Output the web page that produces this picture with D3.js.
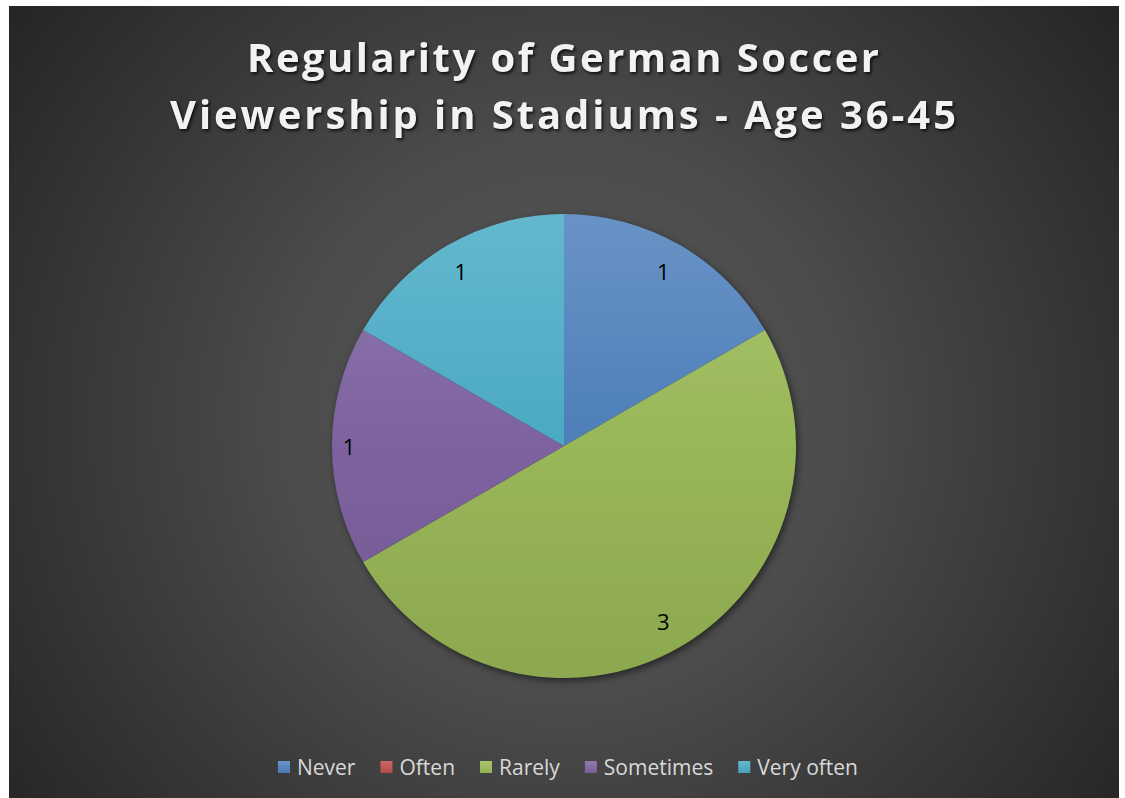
<!DOCTYPE html>
<html>
<head>
<meta charset="utf-8">
<script src="https://cdn.jsdelivr.net/npm/d3@7"></script>
<style>
  html, body { margin: 0; padding: 0; background: #ffffff; }
  svg { display: block; }
</style>
</head>
<body>
<svg id="chart" width="1125" height="798"></svg>
<script>
// Survey answers for the 36-45 age group
const categories = ["Never", "Often", "Rarely", "Sometimes", "Very often"];
const counts = [1, 0, 3, 1, 1];
const sliceColors = ["#4f81bd", "#c0504d", "#9bbb59", "#8064a2", "#4bacc6"];
const titleLines = ["Regularity of German Soccer", "Viewership in Stadiums - Age 36-45"];

const svg = d3.select("#chart");
const frame = { x: 9, y: 6, w: 1110, h: 792 };

const defs = svg.append("defs");

// Dark radial backdrop
const bg = defs.append("radialGradient")
  .attr("id", "bg")
  .attr("gradientUnits", "userSpaceOnUse")
  .attr("cx", 564).attr("cy", 420).attr("r", 690);
[[0, "#555555"], [0.4, "#4c4c4c"], [0.5, "#454545"], [1, "#252525"]]
  .forEach(([o, c]) => bg.append("stop").attr("offset", o).attr("stop-color", c));

svg.append("rect")
  .attr("x", frame.x).attr("y", frame.y)
  .attr("width", frame.w).attr("height", frame.h)
  .attr("fill", "url(#bg)");

// Title with soft drop shadow
const tShadow = defs.append("filter").attr("id", "tshadow")
  .attr("color-interpolation-filters", "sRGB")
  .attr("x", "-10%").attr("y", "-30%").attr("width", "120%").attr("height", "160%");
tShadow.append("feDropShadow")
  .attr("dx", 1.5).attr("dy", 2).attr("stdDeviation", 1.6)
  .attr("flood-color", "#000").attr("flood-opacity", 0.75);

const titleX = 563;
const titleBase = [72, 129];
const titleWidth = [632, 786];
const title = svg.append("g").attr("filter", "url(#tshadow)");
titleLines.forEach((line, i) => {
  title.append("text")
    .attr("x", titleX).attr("y", titleBase[i])
    .attr("text-anchor", "middle")
    .attr("textLength", titleWidth[i])
    .attr("lengthAdjust", "spacing")
    .attr("font-family", "'Open Sans', sans-serif")
    .attr("font-weight", 700)
    .attr("font-size", 40)
    .attr("fill", "#f2f2f2")
    .text(line);
});

// Pie
const cx = 564, cy = 446, R = 232;

// blurred disc beneath the pie for its shadow
const blur = defs.append("filter").attr("id", "blur")
  .attr("x", "-20%").attr("y", "-20%").attr("width", "140%").attr("height", "140%");
blur.append("feGaussianBlur").attr("stdDeviation", 3.5);

// vertical shading for each series, spanning the whole pie (pie-local coords)
sliceColors.forEach((c, i) => {
  const g = defs.append("linearGradient")
    .attr("id", "slice" + i)
    .attr("gradientUnits", "userSpaceOnUse")
    .attr("x1", 0).attr("y1", -R).attr("x2", 0).attr("y2", R);
  g.append("stop").attr("offset", 0).attr("stop-color", d3.interpolateRgb(c, "#ffffff")(0.14));
  g.append("stop").attr("offset", 0.5).attr("stop-color", d3.interpolateRgb(c, "#000000")(0.02));
  g.append("stop").attr("offset", 1).attr("stop-color", d3.interpolateRgb(c, "#000000")(0.1));
});

// legend swatches use the same shading over their own box
sliceColors.forEach((c, i) => {
  const g = defs.append("linearGradient")
    .attr("id", "swatch" + i)
    .attr("x1", 0).attr("y1", 0).attr("x2", 0).attr("y2", 1);
  g.append("stop").attr("offset", 0).attr("stop-color", d3.interpolateRgb(c, "#ffffff")(0.14));
  g.append("stop").attr("offset", 1).attr("stop-color", d3.interpolateRgb(c, "#000000")(0.06));
});

const pie = d3.pie().sort(null).value(d => d.value);
const arcs = pie(categories.map((name, i) => ({ name, value: counts[i], idx: i })));
const arc = d3.arc().innerRadius(0).outerRadius(R);

const pieG = svg.append("g").attr("transform", `translate(${cx},${cy})`);
pieG.append("circle")
  .attr("cx", 2).attr("cy", 3).attr("r", R)
  .attr("fill", "#000").attr("opacity", 0.5)
  .attr("filter", "url(#blur)");
pieG.append("g")
  .selectAll("path")
  .data(arcs.filter(d => d.value > 0))
  .join("path")
  .attr("d", arc)
  .attr("fill", d => `url(#slice${d.data.idx})`);

// value labels sit just inside the rim
const hw = 5, hh = 15, margin = 14;
pieG.append("g")
  .selectAll("text")
  .data(arcs.filter(d => d.value > 0))
  .join("text")
  .each(function (d) {
    const a = (d.startAngle + d.endAngle) / 2;
    const s = Math.sin(a), c = Math.cos(a);
    const r = R - margin - (Math.abs(s) * hw + Math.abs(c) * hh);
    d3.select(this).attr("x", s * r - 2).attr("y", -c * r);
  })
  .attr("text-anchor", "middle")
  .attr("dominant-baseline", "central")
  .attr("font-family", "'Open Sans', sans-serif")
  .attr("font-size", 22)
  .attr("fill", "#000000")
  .text(d => d.data.value);

// Legend
const legend = svg.append("g");
const legendFont = 21, sw = 12, textGap = 7, itemGap = 25, legendY = 767;
const items = legend.selectAll("g")
  .data(categories.map((name, i) => ({ name, idx: i })))
  .join("g");
items.append("rect")
  .attr("width", sw).attr("height", sw)
  .attr("y", legendY - sw / 2)
  .attr("fill", d => `url(#swatch${d.idx})`);
items.append("text")
  .attr("y", legendY)
  .attr("dominant-baseline", "central")
  .attr("font-family", "'Open Sans', sans-serif")
  .attr("font-size", legendFont)
  .attr("fill", "#d9d9d9")
  .text(d => d.name);

const widths = [];
items.select("text").each(function () { widths.push(this.getComputedTextLength()); });
const total = widths.reduce((s, w) => s + sw + textGap + w, 0) + itemGap * (widths.length - 1);
let x = 568 - total / 2;
items.each(function (d, i) {
  const g = d3.select(this);
  g.select("rect").attr("x", x);
  g.select("text").attr("x", x + sw + textGap);
  x += sw + textGap + widths[i] + itemGap;
});
</script>
</body>
</html>
